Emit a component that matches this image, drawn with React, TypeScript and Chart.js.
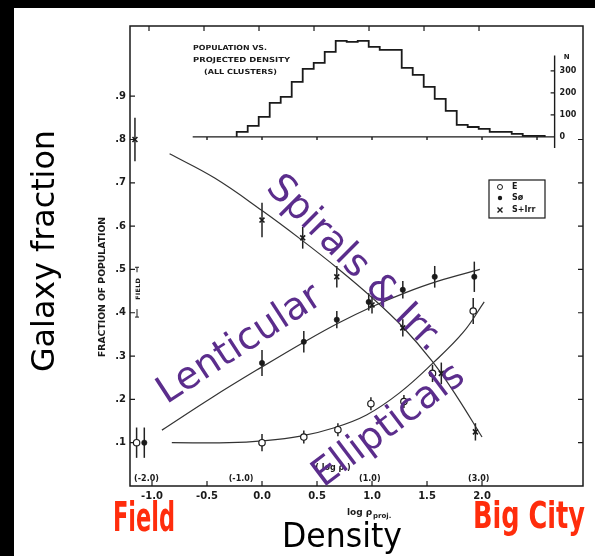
import { useEffect, useRef } from "react";
import { Chart, registerables } from "chart.js";

Chart.register(...registerables);

// ---- measured fractions per projected-density bin (log rho_proj) ----
const ellipticalX = [0.0, 0.38, 0.69, 0.99, 1.29, 1.55, 1.92];
const ellipticalFrac = [0.1, 0.113, 0.13, 0.19, 0.195, 0.26, 0.404];
const ellipticalErr = [0.02, 0.015, 0.015, 0.015, 0.015, 0.02, 0.03];

const lenticularX = [0.0, 0.38, 0.68, 0.97, 1.28, 1.57, 1.93];
const lenticularFrac = [0.284, 0.333, 0.384, 0.425, 0.453, 0.483, 0.483];
const lenticularErr = [0.03, 0.025, 0.02, 0.02, 0.02, 0.025, 0.035];

const spiralX = [0.0, 0.37, 0.68, 1.0, 1.28, 1.63, 1.94];
const spiralFrac = [0.614, 0.573, 0.483, 0.418, 0.365, 0.26, 0.125];
const spiralErr = [0.04, 0.025, 0.025, 0.02, 0.02, 0.025, 0.02];

// field galaxies (plotted left of the density bins)
const fieldX = [-1.14, -1.07, -1.155]; // E, S0, S+Irr
const fieldFrac = [0.1, 0.1, 0.8];
const fieldErr = [0.035, 0.035, 0.05];

// smooth fitted trends
const ellipticalFitX = [-0.82, -0.3, 0.0, 0.35, 0.65, 0.95, 1.25, 1.55, 1.83, 2.02];
const ellipticalFitY = [0.1, 0.1, 0.104, 0.115, 0.134, 0.164, 0.215, 0.283, 0.355, 0.425];
const lenticularFitX = [-0.91, -0.45, 0.0, 0.4, 0.7, 1.0, 1.3, 1.6, 1.98];
const lenticularFitY = [0.129, 0.205, 0.275, 0.335, 0.377, 0.414, 0.446, 0.473, 0.5];
const spiralFitX = [-0.84, -0.43, 0.0, 0.35, 0.7, 1.0, 1.28, 1.55, 1.77, 2.0];
const spiralFitY = [0.767, 0.711, 0.636, 0.57, 0.5, 0.435, 0.367, 0.287, 0.207, 0.113];

// histogram of all cluster galaxies vs projected density (0.1 dex bins)
const histCenters = [
  -0.18, -0.08, 0.02, 0.12, 0.22, 0.32, 0.42, 0.52, 0.62, 0.72, 0.82, 0.92, 1.02, 1.12,
  1.22, 1.32, 1.42, 1.52, 1.62, 1.72, 1.82, 1.92, 2.02, 2.12, 2.22, 2.32, 2.42, 2.52,
];
const histCounts = [
  5, 23, 50, 91, 155, 182, 250, 309, 336, 386, 436, 432, 436, 409,
  395, 395, 314, 282, 227, 173, 118, 55, 45, 36, 23, 23, 14, 5,
];
const histBinWidth = 0.1;

// axes
const xTickValues = [-1.0, -0.5, 0.0, 0.5, 1.0, 1.5, 2.0];
const yTickValues = [0.1, 0.2, 0.3, 0.4, 0.5, 0.6, 0.7, 0.8, 0.9];
const rightTickValues = [0.1, 0.2, 0.3, 0.4, 0.5, 0.6, 0.7, 0.8];
const nTickValues = [0, 100, 200, 300];
const rhoLabels = ["(-2.0)", "(-1.0)", "(1.0)", "(3.0)"];
const rhoLabelAt = [-1.05, -0.19, 0.98, 1.97];

const X_MIN = -1.2;
const X_MAX = 2.918;
const Y_MIN = 0;
const Y_MAX = 1.062;
// histogram count axis: N = 0 sits at fraction 0.806, 100 galaxies span 0.0508
const N_ZERO_AT = 0.806;
const N_PER_FRACTION = 100 / 0.0508;
const HIST_BASE_START = -0.63;
const N_AXIS_AT = 2.66;

const INK = "#1a1a1a";
const PURPLE = "#5b2d8c";
const RED = "#ff2d0c";

const pts = (xs: number[], ys: number[]) => xs.map((x, i) => ({ x, y: ys[i] }));

function histogramSteps() {
  const out = [{ x: histCenters[0] - histBinWidth / 2, y: 0 }];
  histCenters.forEach((c, i) => out.push({ x: c - histBinWidth / 2, y: histCounts[i] }));
  const last = histCenters[histCenters.length - 1] + histBinWidth / 2;
  out.push({ x: last, y: histCounts[histCounts.length - 1] });
  out.push({ x: last, y: 0 });
  return out;
}

type Lbl = {
  text: string;
  x: number;
  y: number;
  font: string;
  color?: string;
  width?: number;
  angle?: number;
  align?: CanvasTextAlign;
  baseline?: CanvasTextBaseline;
};

function drawLabel(ctx: CanvasRenderingContext2D, l: Lbl) {
  ctx.save();
  ctx.font = l.font;
  ctx.fillStyle = l.color || INK;
  ctx.textAlign = l.align || "center";
  ctx.textBaseline = l.baseline || "middle";
  const w = ctx.measureText(l.text).width;
  ctx.translate(l.x, l.y);
  if (l.angle) ctx.rotate((l.angle * Math.PI) / 180);
  if (l.width) ctx.scale(l.width / w, 1);
  ctx.fillText(l.text, 0, 0);
  ctx.restore();
}

const backdrop = {
  id: "backdrop",
  beforeDraw(chart: any) {
    const { ctx, width, height } = chart;
    ctx.save();
    ctx.fillStyle = "#000";
    ctx.fillRect(0, 0, width, height);
    ctx.fillStyle = "#fff";
    ctx.fillRect(14, 8, width - 14, height - 8);
    ctx.restore();
  },
};

const frameAndBars = {
  id: "frameAndBars",
  beforeDatasetsDraw(chart: any) {
    const { ctx, chartArea: a, scales } = chart;
    const xs = scales.x;
    const ys = scales.y;
    const yn = scales.yN;
    ctx.save();
    ctx.strokeStyle = INK;
    ctx.lineWidth = 1.5;
    ctx.strokeRect(a.left, a.top, a.right - a.left, a.bottom - a.top);
    ctx.lineWidth = 1.2;
    ctx.beginPath();
    yTickValues.forEach((v) => {
      const p = ys.getPixelForValue(v);
      ctx.moveTo(a.left, p);
      ctx.lineTo(a.left + 5, p);
    });
    rightTickValues.forEach((v) => {
      const p = ys.getPixelForValue(v);
      ctx.moveTo(a.right - 5, p);
      ctx.lineTo(a.right, p);
    });
    xTickValues.forEach((v) => {
      const p = xs.getPixelForValue(v);
      ctx.moveTo(p, a.bottom);
      ctx.lineTo(p, a.bottom - 5);
      ctx.moveTo(p - 3, a.top);
      ctx.lineTo(p - 3, a.top + 5);
    });
    ctx.stroke();

    // histogram baseline and count axis
    const n0 = yn.getPixelForValue(0);
    const nx = xs.getPixelForValue(N_AXIS_AT);
    ctx.lineWidth = 1.4;
    ctx.beginPath();
    ctx.moveTo(xs.getPixelForValue(HIST_BASE_START), n0);
    ctx.lineTo(nx, n0);
    ctx.moveTo(nx, yn.getPixelForValue(370));
    ctx.lineTo(nx, yn.getPixelForValue(-50));
    nTickValues.forEach((v) => {
      const p = yn.getPixelForValue(v);
      ctx.moveTo(nx - 4, p);
      ctx.lineTo(nx, p);
    });
    [-0.5, 0, 0.5, 1.0, 1.5, 2.0, 2.5].forEach((v) => {
      const p = xs.getPixelForValue(v);
      ctx.moveTo(p, n0);
      ctx.lineTo(p, n0 + 3);
    });
    ctx.stroke();

    // FIELD marker on the left axis
    const fx = 137;
    const fTop = ys.getPixelForValue(0.505);
    const fBot = ys.getPixelForValue(0.39);
    ctx.lineWidth = 1;
    ctx.beginPath();
    ctx.moveTo(fx - 2, fTop);
    ctx.lineTo(fx + 2, fTop);
    ctx.moveTo(fx, fTop);
    ctx.lineTo(fx, fTop + 5);
    ctx.moveTo(fx, fBot - 8);
    ctx.lineTo(fx, fBot);
    ctx.moveTo(fx - 2, fBot);
    ctx.lineTo(fx + 2, fBot);
    ctx.stroke();

    // error bars
    ctx.lineWidth = 1.5;
    ctx.strokeStyle = "#222";
    chart.data.datasets.forEach((ds: any, i: number) => {
      if (!ds.errors) return;
      const meta = chart.getDatasetMeta(i);
      ds.data.forEach((d: any, j: number) => {
        const px = meta.data[j].x;
        ctx.beginPath();
        ctx.moveTo(px, ys.getPixelForValue(d.y + ds.errors[j]));
        ctx.lineTo(px, ys.getPixelForValue(d.y - ds.errors[j]));
        ctx.stroke();
      });
    });
    ctx.restore();
  },
  afterDraw(chart: any) {
    const { ctx, scales } = chart;
    const xs = scales.x;
    const yn = scales.yN;
    const nx = xs.getPixelForValue(N_AXIS_AT);
    const small = "bold 8px 'DejaVu Sans'";

    // count axis labels
    nTickValues.forEach((v) =>
      drawLabel(ctx, { text: String(v), x: nx + 5, y: yn.getPixelForValue(v), font: small, align: "left" })
    );
    drawLabel(ctx, { text: "N", x: nx + 12, y: yn.getPixelForValue(360), font: "bold 7px 'DejaVu Sans'" });

    // histogram caption
    drawLabel(ctx, { text: "POPULATION VS.", x: 193, y: 48, font: "bold 7px 'DejaVu Sans'", align: "left", width: 74 });
    drawLabel(ctx, { text: "PROJECTED DENSITY", x: 193, y: 60, font: "bold 7px 'DejaVu Sans'", align: "left", width: 97 });
    drawLabel(ctx, { text: "(ALL CLUSTERS)", x: 204, y: 72, font: "bold 7px 'DejaVu Sans'", align: "left", width: 73 });

    // legend box
    ctx.save();
    ctx.strokeStyle = INK;
    ctx.lineWidth = 1.2;
    ctx.strokeRect(489, 180, 56, 38);
    ctx.restore();
    const lx = 500;
    const rows = [187, 198, 210];
    ctx.save();
    ctx.strokeStyle = INK;
    ctx.fillStyle = "#fff";
    ctx.lineWidth = 1;
    ctx.beginPath();
    ctx.arc(lx, rows[0], 2.5, 0, Math.PI * 2);
    ctx.fill();
    ctx.stroke();
    ctx.fillStyle = INK;
    ctx.beginPath();
    ctx.arc(lx, rows[1], 2.2, 0, Math.PI * 2);
    ctx.fill();
    ctx.lineWidth = 1.4;
    ctx.beginPath();
    ctx.moveTo(lx - 2.5, rows[2] - 2.5);
    ctx.lineTo(lx + 2.5, rows[2] + 2.5);
    ctx.moveTo(lx + 2.5, rows[2] - 2.5);
    ctx.lineTo(lx - 2.5, rows[2] + 2.5);
    ctx.stroke();
    ctx.restore();
    drawLabel(ctx, { text: "E", x: 512, y: rows[0], font: small, align: "left" });
    drawLabel(ctx, { text: "Sø", x: 512, y: rows[1], font: small, align: "left" });
    drawLabel(ctx, { text: "S+Irr", x: 512, y: rows[2], font: small, align: "left" });

    // axis captions of the figure
    drawLabel(ctx, { text: "FRACTION OF POPULATION", x: 103, y: 287, font: "bold 8px 'DejaVu Sans'", angle: -90, width: 140 });
    drawLabel(ctx, { text: "FIELD", x: 138, y: 289, font: "bold 6px 'DejaVu Sans'", angle: -90, width: 22 });
    drawLabel(ctx, { text: "log ρ", x: 347, y: 513, font: "bold 9px 'DejaVu Sans'", align: "left" });
    drawLabel(ctx, { text: "proj.", x: 373, y: 516, font: "bold 7px 'DejaVu Sans'", align: "left" });
    rhoLabels.forEach((t, i) =>
      drawLabel(ctx, { text: t, x: xs.getPixelForValue(rhoLabelAt[i]), y: 479, font: small })
    );
    drawLabel(ctx, { text: "( log ρ )", x: 333, y: 468, font: small });

    // slide annotations
    drawLabel(ctx, { text: "Galaxy fraction", x: 46, y: 251, font: "32px 'DejaVu Sans'", color: "#000", angle: -90, width: 242 });
    drawLabel(ctx, { text: "Density", x: 342, y: 547, font: "33px 'DejaVu Sans'", color: "#000", baseline: "alphabetic", width: 120 });
    drawLabel(ctx, { text: "Field", x: 113, y: 531, font: "bold 40px 'Liberation Sans Narrow', 'DejaVu Sans Condensed'", color: RED, align: "left", baseline: "alphabetic", width: 62 });
    drawLabel(ctx, { text: "Big City", x: 473, y: 528, font: "bold 38px 'Liberation Sans Narrow', 'DejaVu Sans Condensed'", color: RED, align: "left", baseline: "alphabetic", width: 112 });

    const big = "38px 'DejaVu Sans'";
    drawLabel(ctx, { text: "Spirals & Irr.", x: 354, y: 264, font: big, color: PURPLE, angle: 45 });
    drawLabel(ctx, { text: "Lenticular", x: 240, y: 345, font: big, color: PURPLE, angle: -33 });
    drawLabel(ctx, { text: "Ellipticals", x: 389, y: 426, font: big, color: PURPLE, angle: -37 });
  },
};

export default function App() {
  const ref = useRef<HTMLCanvasElement>(null);

  useEffect(() => {
    document.body.style.margin = "0";
    document.body.style.background = "#000";
    const canvas = ref.current;
    if (!canvas) return;

    const curve = (xs: number[], ys: number[]) => ({
      data: pts(xs, ys),
      showLine: true,
      borderColor: "#333",
      borderWidth: 1.2,
      pointRadius: 0,
      tension: 0.4,
      fill: false,
    });

    const chart = new Chart(canvas, {
      type: "scatter",
      data: {
        datasets: [
          {
            label: "E",
            data: pts([fieldX[0], ...ellipticalX], [fieldFrac[0], ...ellipticalFrac]),
            errors: [fieldErr[0], ...ellipticalErr],
            pointStyle: "circle",
            pointRadius: 3.2,
            backgroundColor: "#fff",
            borderColor: INK,
            borderWidth: 1.2,
          } as any,
          {
            label: "S0",
            data: pts([fieldX[1], ...lenticularX], [fieldFrac[1], ...lenticularFrac]),
            errors: [fieldErr[1], ...lenticularErr],
            pointStyle: "circle",
            pointRadius: 2.7,
            backgroundColor: INK,
            borderColor: INK,
            borderWidth: 0.5,
          } as any,
          {
            label: "S+Irr",
            data: pts([fieldX[2], ...spiralX], [fieldFrac[2], ...spiralFrac]),
            errors: [fieldErr[2], ...spiralErr],
            pointStyle: "crossRot",
            pointRadius: 3.5,
            borderColor: INK,
            borderWidth: 1.6,
          } as any,
          curve(ellipticalFitX, ellipticalFitY),
          curve(lenticularFitX, lenticularFitY),
          curve(spiralFitX, spiralFitY),
          {
            label: "N",
            data: histogramSteps(),
            yAxisID: "yN",
            showLine: true,
            stepped: "after",
            borderColor: INK,
            borderWidth: 1.8,
            pointRadius: 0,
            fill: false,
          } as any,
        ],
      },
      options: {
        animation: false,
        responsive: false,
        devicePixelRatio: 1,
        layout: { padding: { left: 0, top: 26, right: 12, bottom: 0 } },
        plugins: { legend: { display: false }, tooltip: { enabled: false } },
        scales: {
          x: {
            type: "linear",
            min: X_MIN,
            max: X_MAX,
            grid: { display: false, drawTicks: false },
            border: { display: false },
            afterBuildTicks: (s: any) => {
              s.ticks = xTickValues.map((value) => ({ value }));
            },
            afterFit: (s: any) => {
              s.height = 70;
            },
            ticks: {
              padding: 4,
              color: INK,
              font: { family: "'DejaVu Sans'", size: 10, weight: "bold" },
              callback: (v: any) => Number(v).toFixed(1),
            },
          },
          y: {
            type: "linear",
            min: Y_MIN,
            max: Y_MAX,
            grid: { display: false, drawTicks: false },
            border: { display: false },
            afterBuildTicks: (s: any) => {
              s.ticks = yTickValues.map((value) => ({ value }));
            },
            afterFit: (s: any) => {
              s.width = 130;
            },
            ticks: {
              padding: 4,
              color: INK,
              font: { family: "'DejaVu Sans'", size: 10, weight: "bold" },
              callback: (v: any) => "." + Math.round(Number(v) * 10),
            },
          },
          yN: {
            type: "linear",
            display: false,
            min: (Y_MIN - N_ZERO_AT) * N_PER_FRACTION,
            max: (Y_MAX - N_ZERO_AT) * N_PER_FRACTION,
          },
        },
      },
      plugins: [backdrop, frameAndBars],
    } as any);

    return () => chart.destroy();
  }, []);

  return (
    <div style={{ width: 595, height: 556 }}>
      <canvas ref={ref} width={595} height={556} style={{ display: "block", width: 595, height: 556 }} />
    </div>
  );
}
